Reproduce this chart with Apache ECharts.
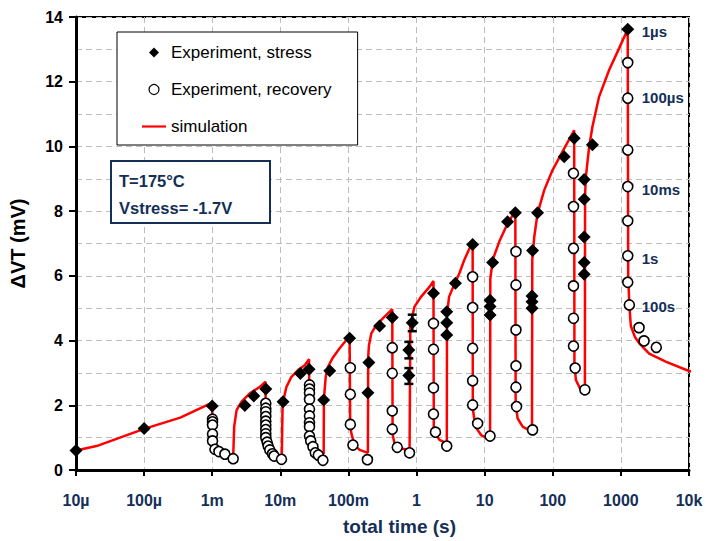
<!DOCTYPE html>
<html>
<head>
<meta charset="utf-8">
<script src="https://cdn.jsdelivr.net/npm/echarts@6/dist/echarts.min.js"></script>
<style>
  html, body { margin: 0; padding: 0; background: #fff; }
  #chart { width: 706px; height: 541px; }
</style>
</head>
<body>
<div id="chart"></div>
<script>
// Decade labels for the logarithmic time axis (1e-5 ... 1e4 s)
const timeTickLabels = ['10µ', '100µ', '1m', '10m', '100m', '1', '10', '100', '1000', '10k'];

// Measured ΔVT (mV) during the stress phases, vs total time (s)
const stressTime = [
  1e-5, 1e-4, 1.0e-3,
  3.01e-3, 4.08e-3, 6.12e-3,
  1.097e-2, 1.97e-2, 2.64e-2,
  4.33e-2, 5.31e-2, 0.1041,
  0.1931, 0.1997, 0.2866, 0.4396,
  0.770, 0.770, 0.864, 1.772,
  2.775, 2.775, 2.775, 3.72, 6.66,
  12.0, 12.0, 12.0, 13.1, 21.7, 28.2,
  49.5, 49.5, 49.5, 50.5, 59.8, 147.2, 206.2,
  289, 289, 289, 289, 289, 382, 1260
];
const stressValue = [
  0.60, 1.28, 1.98,
  1.99, 2.29, 2.50,
  2.11, 2.98, 3.11,
  2.16, 3.07, 4.07,
  2.39, 3.32, 4.45, 4.71,
  2.92, 3.71, 4.55, 5.46,
  4.17, 4.55, 4.89, 5.77, 6.97,
  4.79, 5.05, 5.25, 6.41, 7.67, 7.95,
  5.00, 5.20, 5.38, 6.78, 7.95, 9.68, 10.25,
  6.05, 6.41, 7.20, 8.37, 8.98, 10.05, 13.62
];

// Measured ΔVT (mV) during the recovery phases, vs total time (s)
const recoveryTime = [
  1.01e-3, 1.01e-3, 1.01e-3, 1.01e-3, 1.01e-3, 1.095e-3, 1.254e-3, 1.535e-3, 2.03e-3,
  6.12e-3, 6.12e-3, 6.12e-3, 6.12e-3, 6.12e-3, 6.12e-3, 6.12e-3, 6.12e-3, 6.12e-3,
  6.4e-3, 6.62e-3, 7.0e-3, 7.67e-3, 8.1e-3, 1.04e-2,
  2.68e-2, 2.68e-2, 2.68e-2, 2.68e-2, 2.68e-2, 2.68e-2, 2.68e-2, 2.68e-2, 2.68e-2,
  2.79e-2, 3.01e-2, 3.26e-2, 3.61e-2, 4.22e-2,
  0.1066, 0.1066, 0.1066, 0.1164, 0.19,
  0.44, 0.44, 0.44, 0.44, 0.5206, 0.788,
  1.772, 1.772, 1.772, 1.772, 1.895, 2.775,
  6.66, 6.66, 6.66, 6.66, 6.66, 7.88, 12.0,
  28.8, 28.8, 28.8, 28.8, 28.8, 29.4, 50.5,
  201.4, 201.4, 201.4, 201.4, 201.4, 201.4, 213.3, 296,
  1262, 1262, 1262, 1262, 1262, 1262, 1262, 1332, 1848, 2188, 3311
];
const recoveryValue = [
  1.57, 1.49, 1.39, 1.11, 0.90, 0.64, 0.57, 0.49, 0.35,
  2.06, 1.91, 1.80, 1.65, 1.51, 1.39, 1.25, 1.12, 1.00,
  0.86, 0.74, 0.62, 0.50, 0.43, 0.33,
  2.63, 2.50, 2.38, 2.18, 1.88, 1.67, 1.46, 1.34, 1.05,
  0.90, 0.72, 0.53, 0.46, 0.30,
  3.16, 2.34, 1.41, 0.77, 0.32,
  3.78, 2.99, 1.83, 1.26, 0.70, 0.53,
  4.53, 3.73, 2.54, 1.73, 1.17, 0.74,
  5.97, 5.02, 3.76, 2.76, 2.01, 1.44, 1.05,
  6.75, 5.72, 4.33, 3.22, 2.56, 1.96, 1.24,
  9.17, 8.14, 6.85, 5.69, 4.69, 3.83, 3.15, 2.48,
  12.59, 11.49, 9.89, 8.76, 7.70, 6.62, 5.80, 5.10, 4.40, 3.99, 3.79
];

// Simulated ΔVT (mV) trace vs total time (s)
const simTime = [
  1e-5, 2.0e-5, 1e-4, 3.4e-4, 1.0e-3,
  1.003e-3, 1.03e-3, 1.16e-3, 1.45e-3, 2.03e-3,
  2.10e-3, 2.28e-3, 2.70e-3, 3.57e-3, 5.0e-3, 6.06e-3,
  6.1e-3, 6.4e-3, 7.0e-3, 8.3e-3, 1.05e-2,
  1.08e-2, 1.23e-2, 1.456e-2, 1.82e-2, 2.28e-2, 2.64e-2,
  2.68e-2, 2.85e-2, 3.4e-2, 4.33e-2,
  4.36e-2, 4.64e-2, 5.01e-2, 5.93e-2, 7.43e-2, 0.104,
  0.106, 0.1103, 0.1233, 0.1459, 0.193,
  0.195, 0.200, 0.2166, 0.2564, 0.339, 0.44,
  0.445, 0.475, 0.562, 0.79,
  0.81, 0.933, 1.17, 1.548, 1.772,
  1.79, 1.94, 2.17, 2.78,
  2.80, 3.0, 3.6, 4.26, 5.04, 6.66,
  6.70, 7.29, 8.86, 12.0,
  12.1, 13.1, 16.4, 21.7, 28.2,
  28.5, 30.4, 36.1, 49.5,
  50.0, 53.5, 59.8, 74.9, 99.2, 142.3, 206,
  208, 218.4, 258.5, 296,
  298, 306, 342, 382, 479, 672, 941, 1260,
  1280, 1330, 1400, 1600, 1850, 2600, 4550, 10000, 12500
];
const simValue = [
  0.60, 0.74, 1.27, 1.62, 2.08,
  1.20, 0.85, 0.62, 0.49, 0.38,
  1.34, 1.85, 2.11, 2.37, 2.57, 2.73,
  1.00, 0.80, 0.68, 0.52, 0.40,
  2.05, 2.57, 2.88, 3.09, 3.24, 3.42,
  1.10, 0.77, 0.60, 0.50,
  2.20, 2.88, 3.19, 3.48, 3.76, 4.14,
  1.40, 1.13, 0.77, 0.62, 0.53,
  3.50, 3.85, 4.22, 4.48, 4.74, 4.97,
  1.10, 0.82, 0.67, 0.62,
  4.48, 5.05, 5.36, 5.66, 5.84,
  1.35, 1.08, 0.93, 0.82,
  4.80, 5.35, 5.75, 6.08, 6.50, 7.06,
  1.90, 1.34, 1.08, 0.93,
  5.90, 6.49, 7.06, 7.62, 8.00,
  2.10, 1.60, 1.34, 1.18,
  6.50, 7.21, 7.93, 8.65, 9.27, 9.88, 10.50,
  3.30, 2.78, 2.47, 2.32,
  8.50, 9.06, 9.99, 10.61, 11.54, 12.36, 13.03, 13.62,
  6.00, 5.10, 4.45, 4.12, 3.92, 3.60, 3.35, 3.06, 3.02
];

// Error bars on three early stress points of one cycle
const errTime = [0.770, 0.770, 0.864];
const errLow = [2.66, 3.45, 4.29];
const errHigh = [3.15, 3.96, 4.80];

// Recovery-time annotations beside the last recovery column
const noteTime = [1260, 1260, 1260, 1260, 1260];
const noteValue = [13.54, 11.50, 8.68, 6.55, 5.04];
const noteText = ['1µs', '100µs', '10ms', '1s', '100s'];

const FONT = '"Liberation Sans", Arial, Helvetica, sans-serif';
const NAVY = '#142F57';
const GRID_LINE = { color: '#BDBDBD', width: 1, type: [6, 4] };

const pairs = (xs, ys) => xs.map((x, i) => [x, ys[i]]);

const chart = echarts.init(document.getElementById('chart'), null, { renderer: 'svg' });

chart.setOption({
  animation: false,
  backgroundColor: '#fff',
  textStyle: { fontFamily: FONT },
  grid: {
    left: 76, right: 17, top: 17, bottom: 71,
    show: true, borderColor: '#000', borderWidth: 2, backgroundColor: 'transparent'
  },
  title: {
    text: 'T=175°C\nVstress= -1.7V',
    left: 111, top: 161,
    padding: [6, 38, 2, 8],
    borderColor: NAVY, borderWidth: 2, backgroundColor: '#fff',
    textStyle: { fontFamily: FONT, fontSize: 16.5, fontWeight: 'bold', color: NAVY, lineHeight: 27 }
  },
  legend: {
    orient: 'vertical',
    left: 117, top: 32,
    data: [
      { name: 'Experiment, stress', icon: 'path://M5,0 L10,5 L5,10 L0,5 Z', itemStyle: { opacity: 1 } },
      { name: 'Experiment, recovery', icon: 'circle', itemStyle: { borderWidth: 1.2, opacity: 1 } },
      { name: 'simulation', icon: 'path://M0,0 L24,0 L24,2.2 L0,2.2 Z', itemStyle: { color: '#FF0000', opacity: 1 } }
    ],
    itemWidth: 24, itemHeight: 10, itemGap: 20,
    padding: [12, 26, 10, 25],
    borderColor: '#000', borderWidth: 1, backgroundColor: '#fff',
    selectedMode: false,
    textStyle: { fontFamily: FONT, fontSize: 17, color: '#000' }
  },
  xAxis: {
    type: 'log', logBase: 10, min: 1e-5, max: 1e4,
    name: 'total time (s)', nameLocation: 'middle', nameGap: 47,
    nameTextStyle: { fontFamily: FONT, fontSize: 19, fontWeight: 'bold', color: NAVY, padding: [0, 0, 0, 34] },
    axisLine: { show: true, onZero: false, lineStyle: { color: '#000', width: 3 } },
    axisTick: { show: true, inside: false, length: 6, lineStyle: { color: '#000', width: 2 } },
    minorTick: { show: false },
    axisLabel: {
      margin: 22, fontFamily: FONT, fontSize: 16, fontWeight: 'bold', color: NAVY,
      formatter: v => timeTickLabels[Math.round(Math.log10(v)) + 5]
    },
    splitLine: { show: true, lineStyle: GRID_LINE }
  },
  yAxis: {
    type: 'value', min: 0, max: 14, interval: 2,
    name: 'ΔVT (mV)', nameLocation: 'middle', nameGap: 48,
    nameTextStyle: { fontFamily: FONT, fontSize: 20, fontWeight: 'bold', color: '#000' },
    axisLine: { show: true, lineStyle: { color: '#000', width: 3 } },
    axisTick: { show: true, inside: false, length: 7, lineStyle: { color: '#000', width: 2 } },
    minorTick: { show: false, splitNumber: 2 },
    minorSplitLine: { show: true, lineStyle: GRID_LINE },
    axisLabel: { margin: 13, fontFamily: FONT, fontSize: 16, fontWeight: 'bold', color: '#000' },
    splitLine: { show: true, lineStyle: GRID_LINE }
  },
  series: [
    {
      name: 'simulation',
      type: 'line',
      data: pairs(simTime, simValue),
      symbol: 'none',
      clip: false,
      lineStyle: { color: '#FF0000', width: 2.5, opacity: 1 },
      itemStyle: { color: '#FF0000' },
      z: 2
    },
    {
      name: 'errorbars',
      type: 'custom',
      data: errTime.map((t, i) => [t, errLow[i], errHigh[i]]),
      renderItem: (params, api) => {
        const lo = api.coord([api.value(0), api.value(1)]);
        const hi = api.coord([api.value(0), api.value(2)]);
        const w = 4.5;
        const st = { stroke: '#000', lineWidth: 2.5 };
        return {
          type: 'group',
          children: [
            { type: 'line', shape: { x1: lo[0], y1: lo[1], x2: hi[0], y2: hi[1] }, style: st },
            { type: 'line', shape: { x1: lo[0] - w, y1: lo[1], x2: lo[0] + w, y2: lo[1] }, style: st },
            { type: 'line', shape: { x1: hi[0] - w, y1: hi[1], x2: hi[0] + w, y2: hi[1] }, style: st }
          ]
        };
      },
      z: 3
    },
    {
      name: 'Experiment, recovery',
      type: 'scatter',
      data: pairs(recoveryTime, recoveryValue),
      symbol: 'circle',
      symbolSize: 10,
      itemStyle: { color: '#fff', borderColor: '#000', borderWidth: 1.6, opacity: 1 },
      z: 4
    },
    {
      name: 'Experiment, stress',
      type: 'scatter',
      data: pairs(stressTime, stressValue),
      symbol: 'diamond',
      symbolSize: 13,
      clip: false,
      itemStyle: { color: '#000', opacity: 1 },
      z: 5
    },
    {
      name: 'notes',
      type: 'scatter',
      data: pairs(noteTime, noteValue),
      symbol: 'circle',
      symbolSize: 0.1,
      silent: true,
      itemStyle: { color: 'rgba(0,0,0,0)', opacity: 1 },
      label: {
        show: true, position: 'right', distance: 14,
        formatter: p => noteText[p.dataIndex],
        fontFamily: FONT, fontSize: 15, fontWeight: 'bold', color: NAVY
      },
      z: 6
    }
  ]
});
</script>
</body>
</html>
